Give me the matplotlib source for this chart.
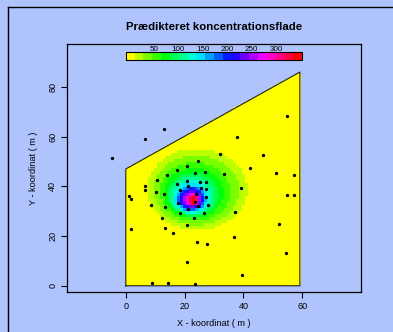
import numpy as np
import matplotlib
matplotlib.use('Agg')
import matplotlib.pyplot as plt
from matplotlib.colors import ListedColormap, hsv_to_rgb
from matplotlib.path import Path
from matplotlib.lines import Line2D

plt.rcParams['font.family'] = ['Liberation Sans', 'DejaVu Sans']

BG = '#afc4fd'

# site boundary (m)
poly_x = [0, 0, 59.2, 59.2]
poly_y = [0, 47, 86, 0]

# sample locations (m)
pts_x = [-4.6, 6.6, 13.0, 37.7, 54.8, 46.5, 42.1, 51.0, 57.2, 32.2, 24.5, 20.9,
         17.5, 14.0, 23.4, 26.8, 33.3, 10.6, 25.4, 27.4, 20.9, 17.5, 6.5, 6.5,
         1.2, 1.9, 10.3, 18.4, 21.0, 25.7, 27.2, 39.1, 12.9, 23.8, 27.2, 17.6,
         23.7, 24.5, 27.9, 21.0, 13.5, 8.5, 18.6, 26.5, 23.2, 12.4, 37.2, 54.9,
         57.1, 52.0, 20.7, 13.5, 1.8, 15.9, 36.8, 24.3, 27.5, 54.5, 20.7, 39.5,
         8.9, 14.3, 23.4]
pts_y = [51.3, 58.9, 63.2, 60.0, 68.4, 52.5, 47.4, 45.3, 44.5, 53.1, 50.2, 48.4,
         46.5, 44.5, 45.3, 45.7, 44.9, 42.5, 41.9, 41.7, 42.2, 41.0, 40.3, 38.7,
         36.0, 34.8, 37.8, 38.7, 40.3, 39.3, 38.9, 39.3, 36.9, 37.0, 35.6, 33.2,
         33.7, 32.3, 32.5, 30.8, 31.6, 32.4, 29.2, 29.2, 27.2, 27.2, 29.6, 36.7,
         36.7, 24.8, 24.4, 23.1, 23.0, 21.1, 19.5, 17.7, 16.7, 13.1, 9.4, 4.2,
         1.2, 1.0, 0.7]

band_level = [1, 2, 3, 4, 5, 6, 7, 8, 9, 10, 11, 12, 13, 14, 15, 16, 17, 18, 19]
band_cx = [24.2, 24.0, 23.6, 23.2, 22.9, 22.6, 22.5, 22.4, 22.3, 22.3, 22.3, 22.4,
           22.5, 22.5, 22.6, 22.7, 22.8, 22.9, 23.0]
band_cy = [38.8, 38.4, 37.8, 37.2, 36.6, 36.1, 35.7, 35.5, 35.3, 35.2, 35.1, 35.0,
           35.0, 34.9, 34.8, 34.7, 34.6, 34.5, 34.4]
band_rx = [17.0, 14.5, 12.0, 10.2, 8.6, 7.4, 6.3, 5.5, 4.9, 4.4, 4.0, 3.5,
           3.0, 2.6, 2.2, 1.9, 1.6, 1.3, 1.0]
band_ry = [16.5, 14.0, 11.8, 10.0, 8.6, 7.5, 6.5, 5.8, 5.2, 4.7, 4.3, 3.8,
           3.4, 3.0, 2.6, 2.3, 2.0, 1.7, 1.4]

# legend scale
z_min, z_max = -8, 354
legend_ticks = [50, 100, 150, 200, 250, 300]
n_col = 20

colors = [hsv_to_rgb((h % 1.0, 1, 1)) for h in np.linspace(1 / 6, 1, n_col)]
cmap = ListedColormap(colors)

fig = plt.figure(figsize=(3.93, 3.32), dpi=100, facecolor=BG)
ax = fig.add_axes([67 / 393, 1 - 292 / 332, 294 / 393, 248 / 332], facecolor=BG)

# outer frame (left/top only visible)
fig.add_artist(Line2D([8 / 393, 8 / 393], [0, 1 - 7 / 332], color='black', lw=1.0,
                      transform=fig.transFigure))
fig.add_artist(Line2D([8 / 393, 1], [1 - 7 / 332, 1 - 7 / 332], color='black', lw=1.0,
                      transform=fig.transFigure))

# prediction grid
dx, dy = 1.0, 1.229
gx = np.arange(0, 60) * dx
gy = np.arange(0, 71) * dy
GX, GY = np.meshgrid(gx, gy)
level = np.zeros(GX.shape)
for lv, cx, cy, rx, ry in zip(band_level, band_cx, band_cy, band_rx, band_ry):
    inside = ((GX - cx) / rx) ** 2 + ((GY - cy) / ry) ** 2 <= 1
    level[inside] = np.maximum(level[inside], lv)

poly = Path(np.column_stack([poly_x, poly_y]))
keep = poly.contains_points(np.column_stack([GX.ravel(), GY.ravel()]), radius=0.05)
keep = keep.reshape(GX.shape)
level = np.ma.masked_where(~keep, level)

ax.fill(poly_x, poly_y, color=colors[0], zorder=1, lw=0)
xe = np.append(gx - dx / 2, gx[-1] + dx / 2)
ye = np.append(gy - dy / 2, gy[-1] + dy / 2)
ax.pcolormesh(xe, ye, level, cmap=cmap, vmin=-0.5, vmax=n_col - 0.5, zorder=2)
ax.plot(poly_x + [poly_x[0]], poly_y + [poly_y[0]], color='black', lw=0.8,
        alpha=0.85, zorder=3)

ax.plot(pts_x, pts_y, 'o', color='black', ms=2.4, mew=0, zorder=4)

# colour legend strip
lx = np.linspace(0, 60, n_col + 1)
ax.pcolormesh(lx, [91, 94.2], np.arange(n_col).reshape(1, -1), cmap=cmap,
              vmin=-0.5, vmax=n_col - 0.5, zorder=2)
ax.plot([0, 60, 60, 0, 0], [91, 91, 94.2, 94.2, 91], color='black', lw=0.8, zorder=3)
for v in legend_ticks:
    ax.text((v - z_min) / (z_max - z_min) * 60, 95.0, str(v), fontsize=5.8,
            ha='center', va='center', zorder=5)

ax.set_xlim(-20, 80)
ax.set_ylim(-2.5, 97.3)
ax.set_xticks([0, 20, 40, 60])
ax.set_yticks([0, 20, 40, 60, 80])
ax.tick_params(length=4, width=0.8, labelsize=6.5, pad=3)
for lab in ax.get_yticklabels():
    lab.set_rotation(90)
    lab.set_va('center')
for sp in ax.spines.values():
    sp.set_linewidth(0.9)

fig.text(214 / 393, 1 - 27 / 332, 'Prædikteret koncentrationsflade', fontsize=8.2,
         fontweight='bold', ha='center', va='center')
fig.text(214 / 393, 1 - 323 / 332, 'X - koordinat ( m )', fontsize=6.6,
         ha='center', va='center')
fig.text(33 / 393, 1 - 168 / 332, 'Y - koordinat ( m )', fontsize=6.6,
         ha='center', va='center', rotation=90)

fig.savefig('out.png', dpi=100, facecolor=BG)
